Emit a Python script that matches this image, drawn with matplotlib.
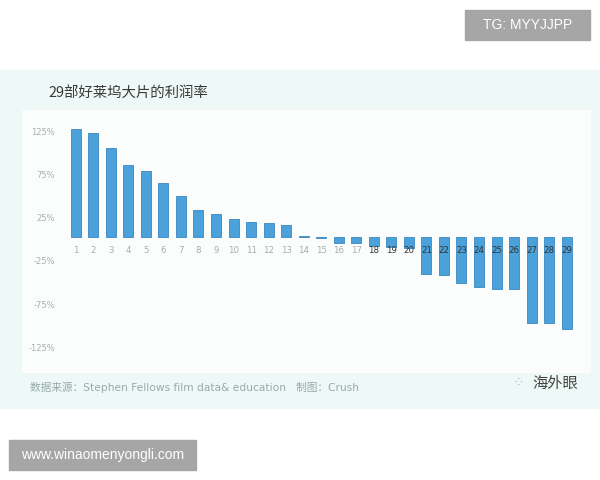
import matplotlib

matplotlib.use("Agg")
import matplotlib.pyplot as plt
from matplotlib.patches import Rectangle
from matplotlib.transforms import ScaledTranslation

plt.rcParams["font.family"] = ["Noto Sans CJK SC", "DejaVu Sans"]

# film rank and profit margin (%)
films = list(range(1, 30))
profit = [
    125, 121, 104, 84, 77, 63, 48, 31, 27, 21, 17, 16, 14, 1.5,
    -1.5, -7, -7, -10, -12, -13, -43, -44, -53, -58, -60, -60, -100, -100, -107,
]
ytick_vals = [125, 75, 25, -25, -75, -125]
ytick_labels = ["125%", "75%", "25%", "-25%", "-75%", "-125%"]

title = "29部好莱坞大片的利润率"
source = "数据来源：Stephen Fellows film data& education   制图：Crush"

bar_color = "#4ba1da"
edge_color = "#3a87bf"

fig = plt.figure(figsize=(6, 4.8), dpi=100)
fig.patch.set_facecolor("white")

# background panels (figure pixel coordinates -> fractions)
W, H = 600.0, 480.0
fig.patches.append(Rectangle((0, 1 - 408 / H), 1, 338 / H, transform=fig.transFigure,
                             color="#eef8f6", zorder=0))
fig.patches.append(Rectangle((22 / W, 1 - 372 / H), 568 / W, 262 / H,
                             transform=fig.transFigure, color="#fbfdfd", zorder=0))

ax = fig.add_axes([60 / W, 1 - 360 / H, 530 / W, 240 / H])
ax.set_zorder(3)
ax.set_facecolor("none")
ax.bar(films, profit, width=0.57, color=bar_color, edgecolor=edge_color,
       linewidth=0.6, zorder=2)
ax.set_xlim(0.105, 30.33)
ax.set_ylim(-143, 136)
ax.set_xticks([])
ax.set_yticks(ytick_vals)
ax.set_yticklabels(ytick_labels, family=["DejaVu Sans"])
ax.tick_params(axis="y", length=0, pad=3.6, labelsize=6, labelcolor="#a8b0b0")
for lbl in ax.get_yticklabels():
    lbl.set_transform(lbl.get_transform()
                      + ScaledTranslation(0, -2.5 / 100, fig.dpi_scale_trans))
for s in ax.spines.values():
    s.set_visible(False)

for i in films:
    ax.annotate(str(i), (i, 0), xytext=(0, -9.4), textcoords="offset points",
                ha="center", va="center", fontsize=6.2, family=["DejaVu Sans"],
                color="#aaaaaa" if i < 18 else "#333333", zorder=3)

fig.text(48 / W, 1 - 93 / H, title, fontsize=10.4, color="#3a3a3a",
         ha="left", va="center", weight="medium")
fig.text(30 / W, 1 - 387 / H, source, fontsize=7.7, color="#95aaaa",
         ha="left", va="center", family=["DejaVu Sans", "Noto Sans CJK SC"])
fig.text(532 / W, 1 - 383 / H, "海外眼", fontsize=11, color="#444444",
         ha="left", va="center")
fig.text(518 / W, 1 - 384 / H, "⁘", fontsize=10, color="#b0b8b8",
         ha="center", va="center", family=["DejaVu Sans"])

# watermark boxes
fig.patches.append(Rectangle((465 / W, 1 - 40 / H), 125 / W, 30 / H,
                             transform=fig.transFigure, color="#a6a6a6", zorder=1))
fig.text(527.5 / W, 1 - 25 / H, "TG: MYYJJPP", fontsize=10, color="white",
         ha="center", va="center", family=["Liberation Sans"])
fig.patches.append(Rectangle((9 / W, 1 - 470 / H), 187 / W, 30 / H,
                             transform=fig.transFigure, color="#a6a6a6", zorder=1))
fig.text(102.5 / W, 1 - 455 / H, "www.winaomenyongli.com", fontsize=10,
         color="white", ha="center", va="center", family=["Liberation Sans"])

fig.savefig("out.png", dpi=100)
